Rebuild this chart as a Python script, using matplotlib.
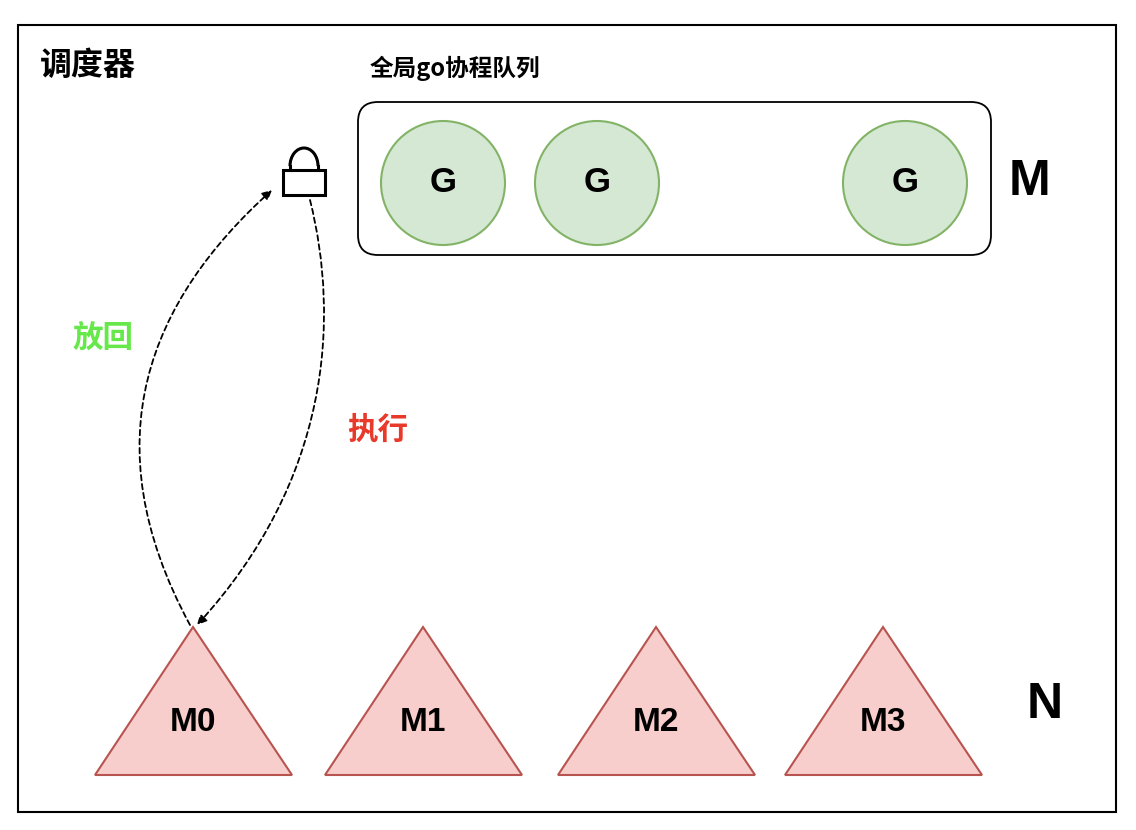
import matplotlib.pyplot as plt
from matplotlib.patches import Rectangle, FancyBboxPatch, Circle, Polygon, FancyArrowPatch, Arc
from matplotlib.path import Path

plt.rcParams['font.family'] = ['Noto Sans CJK SC', 'DejaVu Sans']
latin = ['Liberation Sans', 'DejaVu Sans']

g_centers = [443, 597, 905]
m_labels = ['M0', 'M1', 'M2', 'M3']
m_apex = [193, 423, 656, 883]

fig = plt.figure(figsize=(11.36, 8.30), dpi=100)
ax = fig.add_axes([0, 0, 1, 1])
ax.set_xlim(0, 1136)
ax.set_ylim(830, 0)
ax.axis('off')

ax.add_patch(Rectangle((18, 25), 1098, 787, fill=False, ec='black', lw=1.5))
ax.text(40, 66, '调度器', fontsize=23, fontweight='bold', va='center')
ax.text(370, 68, '全局go协程队列', fontsize=17, fontweight='bold', va='center')

ax.add_patch(FancyBboxPatch((358, 102), 633, 153, boxstyle='round,pad=0,rounding_size=20',
                            fill=False, ec='black', lw=1.3))
for cx in g_centers:
    ax.add_patch(Circle((cx, 183), 62, fc='#d5e8d4', ec='#82b366', lw=1.5))
    ax.text(cx, 183, 'G', fontsize=25, fontweight='bold', ha='center', va='center', family=latin)

ax.text(1030, 182, 'M', fontsize=36, fontweight='bold', ha='center', va='center', family=latin)
ax.text(1045, 705, 'N', fontsize=36, fontweight='bold', ha='center', va='center', family=latin)

for lab, ap in zip(m_labels, m_apex):
    ax.add_patch(Polygon([(ap, 627), (ap - 98, 775), (ap + 99, 775)], closed=True,
                         fc='#f8cecc', ec='#b85450', lw=1.5))
    ax.text(ap, 722, lab, fontsize=24, fontweight='bold', ha='center', va='center', family=latin)

# lock
ax.add_patch(Rectangle((283, 170), 42, 25, fill=False, ec='black', lw=2.2))
ax.add_patch(Arc((304, 166), 28, 36, theta1=180, theta2=360, ec='black', lw=2.2))
ax.plot([290, 290], [166, 170], color='black', lw=2.2)
ax.plot([318, 318], [166, 170], color='black', lw=2.2)

back = Path([(190, 625), (90, 440), (150, 300), (272, 190)],
            [Path.MOVETO, Path.CURVE4, Path.CURVE4, Path.CURVE4])
ax.add_patch(FancyArrowPatch(path=back, arrowstyle='-|>', mutation_scale=14,
                             color='black', lw=1.3, linestyle=(0, (3, 2))))
run = Path([(310, 200), (340, 320), (330, 480), (197, 625)],
           [Path.MOVETO, Path.CURVE4, Path.CURVE4, Path.CURVE4])
ax.add_patch(FancyArrowPatch(path=run, arrowstyle='-|>', mutation_scale=14,
                             color='black', lw=1.3, linestyle=(0, (3, 2))))

ax.text(103, 338, '放回', fontsize=22, fontweight='bold', color='#66e84a', ha='center', va='center')
ax.text(378, 430, '执行', fontsize=22, fontweight='bold', color='#e8392a', ha='center', va='center')

fig.savefig('out.png', dpi=100)
